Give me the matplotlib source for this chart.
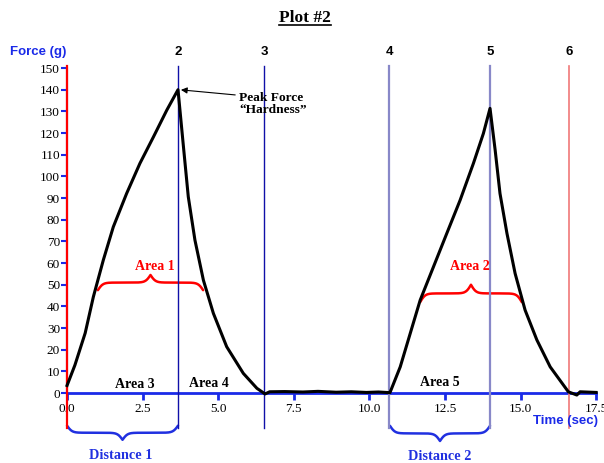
import matplotlib
matplotlib.use('Agg')
import matplotlib.pyplot as plt
from matplotlib.lines import Line2D
import numpy as np

# force-time curve (two compression cycles)
time_s = [0.0, 0.26, 0.6, 0.87, 1.2, 1.53, 1.97, 2.41, 2.86, 3.3, 3.67,
          3.85, 4.01, 4.23, 4.51, 4.84, 5.28, 5.83, 6.28, 6.55,
          6.7, 7.2, 7.8, 8.3, 8.9, 9.4, 9.9, 10.3, 10.68,
          11.02, 11.35, 11.68, 12.12, 12.56, 13.0, 13.44, 13.77, 13.99,
          14.16, 14.32, 14.55, 14.82, 15.15, 15.54, 15.98, 16.58, 16.86, 16.97, 17.5]
force_g = [3.5, 12.9, 27.7, 44.4, 61.4, 76.7, 92.1, 106.0, 118.3, 130.6, 140.0,
           113.7, 90.6, 70.6, 52.1, 36.8, 21.4, 9.1, 2.2, -0.4,
           0.6, 0.7, 0.5, 0.8, 0.4, 0.6, 0.3, 0.5, 0.2,
           12.1, 27.5, 42.9, 58.3, 73.7, 89.0, 106.0, 119.8, 131.4,
           112.1, 92.1, 73.7, 55.2, 38.3, 24.5, 12.1, 0.6, -0.9, 0.6, 0.3]

# event markers 1..6
marker_labels = ['1', '2', '3', '4', '5', '6']
marker_times = [0.0, 3.67, 6.52, 10.65, 13.99, 16.6]
marker_colors = ['#ff0000', '#1010a8', '#1010a8', '#8888c8', '#8888c8', '#f07878']
marker_widths = [1.6, 1.0, 1.0, 1.6, 1.6, 1.2]

# braces: (x start, x end, level, height, colour)
braces = [(1.02, 4.5, 51.0, 7.0, 'red'),
          (11.68, 15.04, 46.0, 8.0, 'red'),
          (0.0, 3.67, -18.3, -6.5, '#2030e0'),
          (10.68, 13.99, -18.6, -7.0, '#2030e0')]

area_labels = ['Area 1', 'Area 2', 'Area 3', 'Area 4', 'Area 5']
area_x = [2.91, 13.33, 2.25, 4.68, 12.32]
area_y = [58.3, 58.3, 3.9, 4.3, 4.7]
area_colors = ['red', 'red', 'black', 'black', 'black']

dist_labels = ['Distance 1', 'Distance 2']
dist_x = [1.78, 12.34]
dist_y = [-28.9, -29.4]

x_ticks = [0.0, 2.5, 5.0, 7.5, 10.0, 12.5, 15.0, 17.5]
y_ticks = list(range(0, 151, 10))

serif = 'Liberation Serif'
sans = 'Liberation Sans'


def draw_brace(ax, x1, x2, y, h, color):
    # curly brace built from two sigmoid halves
    w = (x2 - x1) / 2.0
    beta = 12.0
    xh = np.linspace(0, w, 200)
    yh = 1 / (1 + np.exp(-beta * (xh - xh[0]))) + 1 / (1 + np.exp(-beta * (xh - xh[-1])))
    xs = np.concatenate([x1 + xh, x1 + w + xh])
    ys = np.concatenate([yh, yh[::-1]])
    ys = y + (ys - 1) * h
    ax.plot(xs, ys, color=color, lw=1.8, clip_on=False, solid_capstyle='round')


fig = plt.figure(figsize=(6.04, 4.63), dpi=100, facecolor='white')
ax = fig.add_axes([0.111, 0.151, 0.876, 0.702])
ax.set_xlim(0, 17.5)
ax.set_ylim(0, 150)

for s in ['top', 'right']:
    ax.spines[s].set_visible(False)
ax.spines['bottom'].set_color('#1a2ae8')
ax.spines['bottom'].set_linewidth(2)
ax.spines['left'].set_color('#1a2ae8')
ax.spines['left'].set_linewidth(1.5)

ax.set_xticks(x_ticks)
ax.set_xticklabels(['%.1f' % v for v in x_ticks], fontfamily=serif, fontsize=9.5)
ax.set_yticks(y_ticks)
ax.set_yticklabels([str(v) for v in y_ticks], fontfamily=serif, fontsize=9.5)
ax.tick_params(axis='x', colors='#1a2ae8', labelcolor='black', length=5, width=2, pad=2)
ax.tick_params(axis='y', colors='#1a2ae8', labelcolor='black', length=4, width=1.5, pad=1)

# vertical event lines
for lab, t, c, lw in zip(marker_labels, marker_times, marker_colors, marker_widths):
    ax.plot([t, t], [-16.3, 151], color=c, lw=lw, clip_on=False, zorder=3)
    if lab != '1':
        ax.text(t, 157.4, lab, ha='center', va='center', fontsize=9.5,
                fontweight='bold', fontfamily=sans)

ax.plot(time_s, force_g, color='black', lw=2.2, clip_on=False, zorder=4)

for b in braces:
    draw_brace(ax, *b)

for lab, x, y, c in zip(area_labels, area_x, area_y, area_colors):
    ax.text(x, y, lab, ha='center', va='center', color=c, fontsize=10,
            fontweight='bold', fontfamily=serif)
for lab, x, y in zip(dist_labels, dist_x, dist_y):
    ax.text(x, y, lab, ha='center', va='center', color='#2030e0', fontsize=10.3,
            fontweight='bold', fontfamily=serif, clip_on=False)

ax.annotate('Peak Force\n\u201cHardness\u201d', xy=(3.72, 140), xytext=(5.7, 133.4),
            ha='left', va='center', fontsize=9.6, fontweight='bold', fontfamily=serif,
            linespacing=1.1,
            arrowprops=dict(arrowstyle='-|>', color='black', lw=0.8,
                            shrinkA=1, shrinkB=1, mutation_scale=9,
                            relpos=(0.0, 0.85)))

fig.text(10 / 604, 1 - 52 / 463, 'Force (g)', ha='left', va='center',
         color='#1a2ae8', fontsize=9.5, fontweight='bold', fontfamily=sans)
ax.text(17.55, -12.8, 'Time (sec)', ha='right', va='center', color='#1a2ae8',
        fontsize=9.5, fontweight='bold', fontfamily=sans)

title = fig.text(0.505, 0.961, 'Plot #2', ha='center', va='center', fontsize=12.5,
                 fontweight='bold', fontfamily=serif)
fig.canvas.draw()
bb = title.get_window_extent().transformed(fig.transFigure.inverted())
fig.add_artist(Line2D([bb.x0, bb.x1], [bb.y0 + 0.002, bb.y0 + 0.002],
                      transform=fig.transFigure, color='black', lw=1.2))

fig.savefig('out.png', dpi=100)
